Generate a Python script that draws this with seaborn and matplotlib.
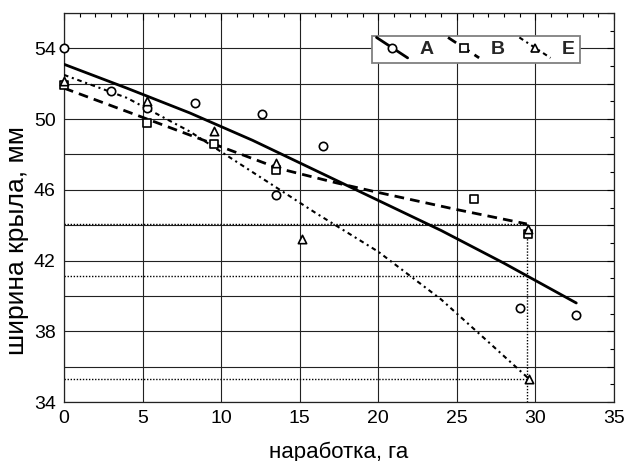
import numpy as np
import pandas as pd
import seaborn as sns
import matplotlib
matplotlib.use("Agg")
import matplotlib.pyplot as plt
from matplotlib.lines import Line2D
from matplotlib.legend_handler import HandlerLine2D
from matplotlib.ticker import MultipleLocator, FuncFormatter

# ---- data ----
A_x = [0.0, 3.0, 5.3, 8.35, 12.6, 13.5, 16.5, 29.0, 32.55]
A_y = [54.0, 51.6, 50.65, 50.9, 50.3, 45.7, 48.5, 39.3, 38.9]

B_x = [0.0, 5.3, 9.55, 13.5, 26.1, 29.5]
B_y = [51.95, 49.8, 48.6, 47.1, 45.5, 43.5]

E_x = [0.0, 5.3, 9.55, 13.5, 15.15, 29.5, 29.6]
E_y = [52.15, 51.0, 49.3, 47.5, 43.2, 43.8, 35.3]

A_fit_x = [0, 4, 8, 12, 16, 20, 24, 28, 32.6]
A_fit_y = [53.1, 51.75, 50.35, 48.8, 47.1, 45.4, 43.7, 41.85, 39.6]

B_fit_x = [0, 5, 11.15, 13.7, 17.3, 20, 24.9, 29.45]
B_fit_y = [51.75, 50.1, 48.05, 47.2, 46.4, 45.85, 44.9, 44.07]

E_fit_x = [0, 4, 8, 12, 16, 20, 24, 27, 29.6]
E_fit_y = [52.5, 51.2, 49.3, 47.0, 44.7, 42.5, 39.8, 37.4, 35.3]

ref_x = 29.45
ref_y = [44.07, 41.1, 35.3]

x_label = "наработка, га"
y_label = "ширина крыла, мм"

sns.set_theme(style="white")
plt.rcParams['font.family'] = ['Liberation Sans', 'DejaVu Sans']

fig = plt.figure(figsize=(6.28, 4.61), dpi=100)
ax = fig.add_axes([64/628, 1-402/461, 550/628, 389/461])

pts = pd.concat([
    pd.DataFrame({"x": A_x, "y": A_y, "s": "A"}),
    pd.DataFrame({"x": B_x, "y": B_y, "s": "B"}),
    pd.DataFrame({"x": E_x, "y": E_y, "s": "E"}),
])
fits = {"A": (A_fit_x, A_fit_y), "B": (B_fit_x, B_fit_y), "E": (E_fit_x, E_fit_y)}
styles = {"A": dict(ls='-', lw=2.0),
          "B": dict(ls=(0, (3.5, 2.2)), lw=2.0),
          "E": dict(ls=(0, (2.2, 1.8, 1, 1.8)), lw=1.5)}
markers = {"A": "o", "B": "s", "E": "^"}

# reference dotted lines
ax.hlines(ref_y, 0, ref_x, colors='black', linestyles=(0, (1, 1.2)), lw=1.0, zorder=2)
ax.vlines(ref_x, 34, max(ref_y), colors='black', linestyles=(0, (1, 1.2)), lw=1.0, zorder=2)

handles = []
for s in ["A", "B", "E"]:
    fx, fy = fits[s]
    sns.lineplot(x=fx, y=fy, ax=ax, color='black', sort=False, estimator=None,
                 linestyle=styles[s]['ls'], linewidth=styles[s]['lw'], zorder=3)
    d = pts[pts.s == s]
    sns.scatterplot(data=d, x="x", y="y", ax=ax, marker=markers[s], s=36,
                    facecolor='white', edgecolor='black', linewidth=1.2,
                    zorder=4, clip_on=False)
    handles.append(Line2D([], [], color='black', linestyle=styles[s]['ls'],
                          linewidth=styles[s]['lw'], marker=markers[s], markersize=6,
                          markerfacecolor='white', markeredgecolor='black',
                          markeredgewidth=1.2, label=s))


class DiagHandler(HandlerLine2D):
    def create_artists(self, legend, orig_handle, xdescent, ydescent, width, height,
                       fontsize, trans):
        x0 = -xdescent
        y0 = -ydescent
        line = Line2D([x0, x0 + width], [y0 + height * 1.25, y0 - height * 0.25])
        self.update_prop(line, orig_handle, legend)
        line.set_marker('None')
        line.set_transform(trans)
        mk = Line2D([x0 + width / 2], [y0 + height / 2])
        self.update_prop(mk, orig_handle, legend)
        mk.set_linestyle('None')
        mk.set_transform(trans)
        return [line, mk]


ax.set_xlim(0, 35)
ax.set_ylim(34, 56)
ax.xaxis.set_major_locator(MultipleLocator(5))
ax.xaxis.set_minor_locator(MultipleLocator(1))
ax.yaxis.set_major_locator(MultipleLocator(2))
ax.yaxis.set_minor_locator(MultipleLocator(1))
ax.yaxis.set_major_formatter(FuncFormatter(lambda v, p: f"{int(round(v))}" if int(round(v - 34)) % 4 == 0 else ""))
ax.grid(True, which='major', color='#222222', lw=0.8)
ax.tick_params(which='both', direction='in', top=True, right=True, colors='black',
               labelsize=14, labelcolor='black')
ax.tick_params(axis='x', which='major', pad=6)
ax.tick_params(axis='y', which='major', pad=6)
ax.tick_params(which='major', length=5, width=0.8)
ax.tick_params(which='minor', length=3, width=0.8)
for sp in ax.spines.values():
    sp.set_color('#222222')
    sp.set_linewidth(0.9)

ax.set_xlabel(x_label, fontsize=16, labelpad=10, color='black')
ax.set_ylabel(y_label, fontsize=19, color='black')
ax.yaxis.set_label_coords((29 - 64) / 550, (402 - 240) / 389)

leg = ax.legend(handles=handles, ncol=3, loc='upper right',
                bbox_to_anchor=((580-64)/550, (402-36)/389), borderaxespad=0,
                handler_map={Line2D: DiagHandler()}, fancybox=False, framealpha=1,
                edgecolor='#808080', handlelength=1.6, handletextpad=0.6,
                columnspacing=0.75, borderpad=0.25,
                prop={'weight': 'bold', 'size': 14})
leg.get_frame().set_linewidth(1.3)
leg.set_zorder(10)

fig.savefig("out.png", dpi=100)
